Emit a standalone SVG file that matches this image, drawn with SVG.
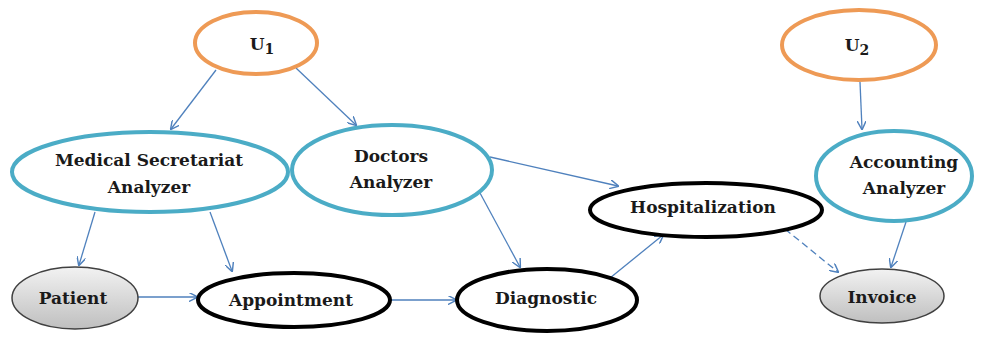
<svg xmlns="http://www.w3.org/2000/svg" width="985" height="337" viewBox="0 0 985 337">
<defs>
<marker id="ah" viewBox="0 0 10 10" refX="9" refY="5" markerWidth="9" markerHeight="9" markerUnits="userSpaceOnUse" orient="auto">
<path d="M0,0 L10,5 L0,10" fill="none" stroke="#4F81BD" stroke-width="1.6"/>
</marker>
<linearGradient id="grey" x1="0" y1="0" x2="0" y2="1">
<stop offset="0" stop-color="#f2f2f2"/>
<stop offset="1" stop-color="#bfbfbf"/>
</linearGradient>
<style>
.t{font-family:"DejaVu Serif","Liberation Serif",serif;font-weight:bold;font-size:17px;fill:#1a1a1a;text-anchor:middle}
.u{fill:#fff;stroke:#EE9A55;stroke-width:4}
.a{fill:#fff;stroke:#4BACC6;stroke-width:4}
.b{fill:#fff;stroke:#000;stroke-width:4}
.g{fill:url(#grey);stroke:#404040;stroke-width:1.5}
.c{fill:none;stroke:#4F81BD;stroke-width:1.3;marker-end:url(#ah)}
</style>
</defs>
<rect width="985" height="337" fill="#fff"/>
<g id="connectors">
<line class="c" x1="216" y1="70" x2="171" y2="129"/>
<line class="c" x1="296" y1="68" x2="356" y2="125"/>
<line class="c" x1="95" y1="212" x2="79" y2="265"/>
<line class="c" x1="210" y1="212" x2="232" y2="271"/>
<line class="c" x1="138" y1="297" x2="197" y2="297"/>
<line class="c" x1="391" y1="300" x2="456" y2="300"/>
<line class="c" x1="490" y1="157" x2="618" y2="186"/>
<line class="c" x1="480" y1="193" x2="520" y2="267"/>
<line class="c" x1="610" y1="278" x2="663" y2="235"/>
<line class="c" x1="785" y1="229" x2="838" y2="272" stroke-dasharray="7,4"/>
<line class="c" x1="906" y1="222" x2="891" y2="267"/>
<line class="c" x1="860" y1="82" x2="862" y2="129"/>
</g>
<g id="U1">
<ellipse class="u" cx="256" cy="43" rx="61" ry="31"/>
<text class="t" x="262" y="50" font-size="20">U<tspan font-size="14" dy="4">1</tspan></text>
</g>
<g id="U2">
<ellipse class="u" cx="859" cy="45" rx="77" ry="35"/>
<text class="t" x="857" y="51" font-size="20">U<tspan font-size="14" dy="4">2</tspan></text>
</g>
<g id="medical-secretariat-analyzer">
<ellipse class="a" cx="150" cy="172" rx="138" ry="40"/>
<text class="t" x="149" y="166">Medical Secretariat</text>
<text class="t" x="149" y="193">Analyzer</text>
</g>
<g id="doctors-analyzer">
<ellipse class="a" cx="392" cy="170" rx="100" ry="45"/>
<text class="t" x="391" y="162">Doctors</text>
<text class="t" x="391" y="188">Analyzer</text>
</g>
<g id="accounting-analyzer">
<ellipse class="a" cx="894" cy="176" rx="78" ry="45"/>
<text class="t" x="904" y="168">Accounting</text>
<text class="t" x="904" y="194">Analyzer</text>
</g>
<g id="hospitalization">
<ellipse class="b" cx="706" cy="210" rx="116" ry="27"/>
<text class="t" x="703" y="213">Hospitalization</text>
</g>
<g id="patient">
<ellipse class="g" cx="75" cy="298" rx="63" ry="31"/>
<text class="t" x="73" y="304">Patient</text>
</g>
<g id="appointment">
<ellipse class="b" cx="294" cy="300" rx="96" ry="27"/>
<text class="t" x="291" y="306">Appointment</text>
</g>
<g id="diagnostic">
<ellipse class="b" cx="547" cy="300" rx="90" ry="31"/>
<text class="t" x="546" y="304">Diagnostic</text>
</g>
<g id="invoice">
<ellipse class="g" cx="882" cy="296" rx="62" ry="27"/>
<text class="t" x="882" y="303">Invoice</text>
</g>
</svg>
